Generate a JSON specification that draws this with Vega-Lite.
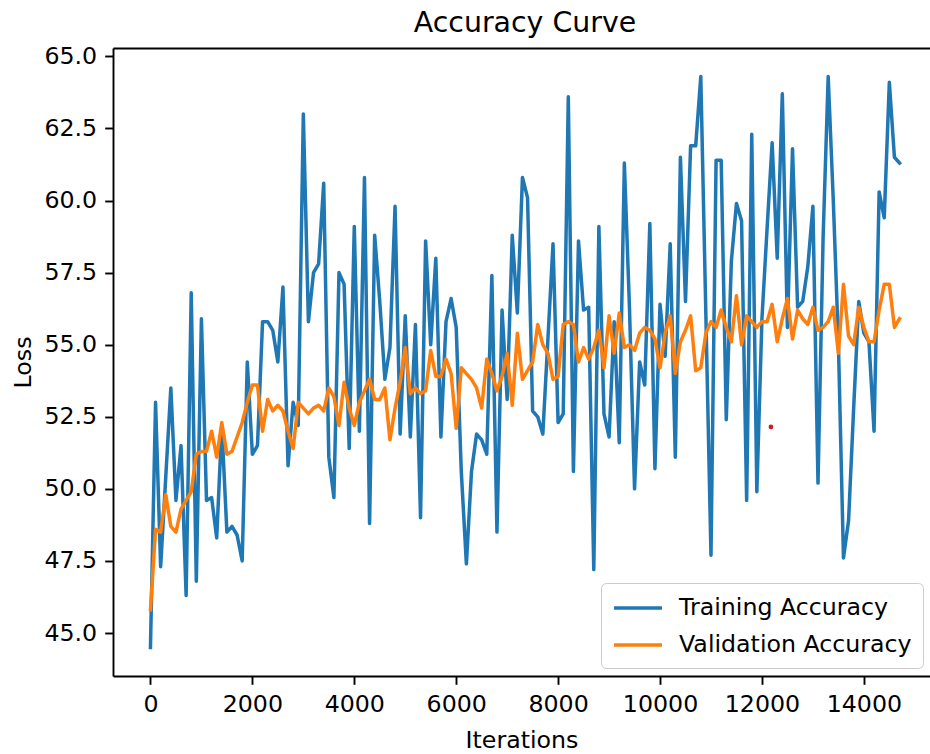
{
  "$schema": "https://vega.github.io/schema/vega-lite/v6.json",
  "width": 817,
  "height": 628,
  "autosize": {"type": "none"},
  "padding": {"left": 113, "top": 48, "right": 0, "bottom": 78},
  "background": "white",
  "title": {"text": "Accuracy Curve", "font": "DejaVu Sans", "fontSize": 28.4, "fontWeight": "normal", "color": "black", "frame": "group", "anchor": "middle", "baseline": "alphabetic", "offset": 14, "dx": 3.5, "dy": 30},
  "config": {
    "view": {"stroke": null},
    "axis": {"labelFont": "DejaVu Sans", "labelFontSize": 23.7, "labelColor": "black", "titleFont": "DejaVu Sans", "titleFontSize": 23.7, "titleFontWeight": "normal", "titleColor": "black", "tickColor": "black", "tickSize": 8.3, "tickWidth": 1.9, "domainColor": "black", "domainWidth": 1.9, "labelPadding": 8, "grid": false, "labelFlush": false, "labelOverlap": false}
  },
  "resolve": {"axis": {"x": "independent"}},
  "layer": [
    {
      "data": {"values": [
        {"it":0,"Training Accuracy":44.5,"Validation Accuracy":45.8},
        {"it":100,"Training Accuracy":53.0,"Validation Accuracy":48.6},
        {"it":200,"Training Accuracy":47.3,"Validation Accuracy":48.5},
        {"it":300,"Training Accuracy":50.4,"Validation Accuracy":49.8},
        {"it":400,"Training Accuracy":53.5,"Validation Accuracy":48.7},
        {"it":500,"Training Accuracy":49.6,"Validation Accuracy":48.5},
        {"it":600,"Training Accuracy":51.5,"Validation Accuracy":49.3},
        {"it":700,"Training Accuracy":46.3,"Validation Accuracy":49.6},
        {"it":800,"Training Accuracy":56.8,"Validation Accuracy":49.9},
        {"it":900,"Training Accuracy":46.8,"Validation Accuracy":51.2},
        {"it":1000,"Training Accuracy":55.9,"Validation Accuracy":51.3},
        {"it":1100,"Training Accuracy":49.6,"Validation Accuracy":51.3},
        {"it":1200,"Training Accuracy":49.7,"Validation Accuracy":52.0},
        {"it":1300,"Training Accuracy":48.3,"Validation Accuracy":51.1},
        {"it":1400,"Training Accuracy":52.2,"Validation Accuracy":52.3},
        {"it":1500,"Training Accuracy":48.5,"Validation Accuracy":51.2},
        {"it":1600,"Training Accuracy":48.7,"Validation Accuracy":51.3},
        {"it":1700,"Training Accuracy":48.4,"Validation Accuracy":51.8},
        {"it":1800,"Training Accuracy":47.5,"Validation Accuracy":52.3},
        {"it":1900,"Training Accuracy":54.4,"Validation Accuracy":53.0},
        {"it":2000,"Training Accuracy":51.2,"Validation Accuracy":53.6},
        {"it":2100,"Training Accuracy":51.5,"Validation Accuracy":53.6},
        {"it":2200,"Training Accuracy":55.8,"Validation Accuracy":52.0},
        {"it":2300,"Training Accuracy":55.8,"Validation Accuracy":53.1},
        {"it":2400,"Training Accuracy":55.5,"Validation Accuracy":52.7},
        {"it":2500,"Training Accuracy":54.4,"Validation Accuracy":52.9},
        {"it":2600,"Training Accuracy":57.0,"Validation Accuracy":52.7},
        {"it":2700,"Training Accuracy":50.8,"Validation Accuracy":52.0},
        {"it":2800,"Training Accuracy":53.0,"Validation Accuracy":51.4},
        {"it":2900,"Training Accuracy":52.2,"Validation Accuracy":53.0},
        {"it":3000,"Training Accuracy":63.0,"Validation Accuracy":52.8},
        {"it":3100,"Training Accuracy":55.8,"Validation Accuracy":52.6},
        {"it":3200,"Training Accuracy":57.5,"Validation Accuracy":52.8},
        {"it":3300,"Training Accuracy":57.8,"Validation Accuracy":52.9},
        {"it":3400,"Training Accuracy":60.6,"Validation Accuracy":52.7},
        {"it":3500,"Training Accuracy":51.1,"Validation Accuracy":53.5},
        {"it":3600,"Training Accuracy":49.7,"Validation Accuracy":53.2},
        {"it":3700,"Training Accuracy":57.5,"Validation Accuracy":52.2},
        {"it":3800,"Training Accuracy":57.1,"Validation Accuracy":53.7},
        {"it":3900,"Training Accuracy":51.4,"Validation Accuracy":52.8},
        {"it":4000,"Training Accuracy":59.1,"Validation Accuracy":52.2},
        {"it":4100,"Training Accuracy":52.0,"Validation Accuracy":53.0},
        {"it":4200,"Training Accuracy":60.8,"Validation Accuracy":53.4},
        {"it":4300,"Training Accuracy":48.8,"Validation Accuracy":53.8},
        {"it":4400,"Training Accuracy":58.8,"Validation Accuracy":53.1},
        {"it":4500,"Training Accuracy":56.5,"Validation Accuracy":53.1},
        {"it":4600,"Training Accuracy":53.8,"Validation Accuracy":53.5},
        {"it":4700,"Training Accuracy":54.9,"Validation Accuracy":51.7},
        {"it":4800,"Training Accuracy":59.8,"Validation Accuracy":52.8},
        {"it":4900,"Training Accuracy":51.9,"Validation Accuracy":53.7},
        {"it":5000,"Training Accuracy":56.0,"Validation Accuracy":54.9},
        {"it":5100,"Training Accuracy":51.8,"Validation Accuracy":53.3},
        {"it":5200,"Training Accuracy":55.7,"Validation Accuracy":53.5},
        {"it":5300,"Training Accuracy":49.0,"Validation Accuracy":53.3},
        {"it":5400,"Training Accuracy":58.6,"Validation Accuracy":53.4},
        {"it":5500,"Training Accuracy":55.0,"Validation Accuracy":54.8},
        {"it":5600,"Training Accuracy":58.0,"Validation Accuracy":53.9},
        {"it":5700,"Training Accuracy":51.8,"Validation Accuracy":53.9},
        {"it":5800,"Training Accuracy":55.8,"Validation Accuracy":54.5},
        {"it":5900,"Training Accuracy":56.6,"Validation Accuracy":54.0},
        {"it":6000,"Training Accuracy":55.6,"Validation Accuracy":52.1},
        {"it":6100,"Training Accuracy":50.6,"Validation Accuracy":54.2},
        {"it":6200,"Training Accuracy":47.4,"Validation Accuracy":54.0},
        {"it":6300,"Training Accuracy":50.6,"Validation Accuracy":53.8},
        {"it":6400,"Training Accuracy":51.9,"Validation Accuracy":53.5},
        {"it":6500,"Training Accuracy":51.7,"Validation Accuracy":52.8},
        {"it":6600,"Training Accuracy":51.2,"Validation Accuracy":54.5},
        {"it":6700,"Training Accuracy":57.4,"Validation Accuracy":54.0},
        {"it":6800,"Training Accuracy":48.5,"Validation Accuracy":53.4},
        {"it":6900,"Training Accuracy":56.2,"Validation Accuracy":53.9},
        {"it":7000,"Training Accuracy":53.1,"Validation Accuracy":54.7},
        {"it":7100,"Training Accuracy":58.8,"Validation Accuracy":52.9},
        {"it":7200,"Training Accuracy":56.1,"Validation Accuracy":55.4},
        {"it":7300,"Training Accuracy":60.8,"Validation Accuracy":53.8},
        {"it":7400,"Training Accuracy":60.1,"Validation Accuracy":54.1},
        {"it":7500,"Training Accuracy":52.7,"Validation Accuracy":54.4},
        {"it":7600,"Training Accuracy":52.5,"Validation Accuracy":55.7},
        {"it":7700,"Training Accuracy":51.9,"Validation Accuracy":55.0},
        {"it":7800,"Training Accuracy":55.2,"Validation Accuracy":54.7},
        {"it":7900,"Training Accuracy":58.5,"Validation Accuracy":53.8},
        {"it":8000,"Training Accuracy":52.3,"Validation Accuracy":53.9},
        {"it":8100,"Training Accuracy":52.6,"Validation Accuracy":55.7},
        {"it":8200,"Training Accuracy":63.6,"Validation Accuracy":55.8},
        {"it":8300,"Training Accuracy":50.6,"Validation Accuracy":55.7},
        {"it":8400,"Training Accuracy":58.6,"Validation Accuracy":54.4},
        {"it":8500,"Training Accuracy":56.2,"Validation Accuracy":54.9},
        {"it":8600,"Training Accuracy":56.3,"Validation Accuracy":54.5},
        {"it":8700,"Training Accuracy":47.2,"Validation Accuracy":54.9},
        {"it":8800,"Training Accuracy":59.1,"Validation Accuracy":55.5},
        {"it":8900,"Training Accuracy":52.6,"Validation Accuracy":54.2},
        {"it":9000,"Training Accuracy":51.8,"Validation Accuracy":56.0},
        {"it":9100,"Training Accuracy":55.8,"Validation Accuracy":54.7},
        {"it":9200,"Training Accuracy":51.6,"Validation Accuracy":56.1},
        {"it":9300,"Training Accuracy":61.3,"Validation Accuracy":54.9},
        {"it":9400,"Training Accuracy":56.3,"Validation Accuracy":55.0},
        {"it":9500,"Training Accuracy":50.0,"Validation Accuracy":54.8},
        {"it":9600,"Training Accuracy":54.4,"Validation Accuracy":55.4},
        {"it":9700,"Training Accuracy":53.6,"Validation Accuracy":55.6},
        {"it":9800,"Training Accuracy":59.2,"Validation Accuracy":55.5},
        {"it":9900,"Training Accuracy":50.7,"Validation Accuracy":55.2},
        {"it":10000,"Training Accuracy":56.4,"Validation Accuracy":54.2},
        {"it":10100,"Training Accuracy":54.6,"Validation Accuracy":55.4},
        {"it":10200,"Training Accuracy":58.5,"Validation Accuracy":56.0},
        {"it":10300,"Training Accuracy":51.1,"Validation Accuracy":54.0},
        {"it":10400,"Training Accuracy":61.5,"Validation Accuracy":55.1},
        {"it":10500,"Training Accuracy":56.5,"Validation Accuracy":55.5},
        {"it":10600,"Training Accuracy":61.9,"Validation Accuracy":56.0},
        {"it":10700,"Training Accuracy":61.9,"Validation Accuracy":54.1},
        {"it":10800,"Training Accuracy":64.3,"Validation Accuracy":54.2},
        {"it":10900,"Training Accuracy":56.0,"Validation Accuracy":55.4},
        {"it":11000,"Training Accuracy":47.7,"Validation Accuracy":55.8},
        {"it":11100,"Training Accuracy":61.4,"Validation Accuracy":55.6},
        {"it":11200,"Training Accuracy":61.4,"Validation Accuracy":56.2},
        {"it":11300,"Training Accuracy":52.4,"Validation Accuracy":55.6},
        {"it":11400,"Training Accuracy":57.9,"Validation Accuracy":55.1},
        {"it":11500,"Training Accuracy":59.9,"Validation Accuracy":56.7},
        {"it":11600,"Training Accuracy":59.3,"Validation Accuracy":55.0},
        {"it":11700,"Training Accuracy":49.6,"Validation Accuracy":56.0},
        {"it":11800,"Training Accuracy":62.3,"Validation Accuracy":55.8},
        {"it":11900,"Training Accuracy":49.9,"Validation Accuracy":55.6},
        {"it":12000,"Training Accuracy":55.9,"Validation Accuracy":55.8},
        {"it":12100,"Training Accuracy":59.0,"Validation Accuracy":55.8},
        {"it":12200,"Training Accuracy":62.0,"Validation Accuracy":56.4},
        {"it":12300,"Training Accuracy":58.0,"Validation Accuracy":55.1},
        {"it":12400,"Training Accuracy":63.7,"Validation Accuracy":55.9},
        {"it":12500,"Training Accuracy":55.6,"Validation Accuracy":56.6},
        {"it":12600,"Training Accuracy":61.8,"Validation Accuracy":55.2},
        {"it":12700,"Training Accuracy":56.3,"Validation Accuracy":56.2},
        {"it":12800,"Training Accuracy":56.5,"Validation Accuracy":55.9},
        {"it":12900,"Training Accuracy":57.7,"Validation Accuracy":55.7},
        {"it":13000,"Training Accuracy":59.8,"Validation Accuracy":56.3},
        {"it":13100,"Training Accuracy":50.2,"Validation Accuracy":55.5},
        {"it":13200,"Training Accuracy":58.7,"Validation Accuracy":55.6},
        {"it":13300,"Training Accuracy":64.3,"Validation Accuracy":55.8},
        {"it":13400,"Training Accuracy":60.0,"Validation Accuracy":56.3},
        {"it":13500,"Training Accuracy":55.1,"Validation Accuracy":54.7},
        {"it":13600,"Training Accuracy":47.6,"Validation Accuracy":57.1},
        {"it":13700,"Training Accuracy":48.9,"Validation Accuracy":55.3},
        {"it":13800,"Training Accuracy":52.8,"Validation Accuracy":55.0},
        {"it":13900,"Training Accuracy":56.5,"Validation Accuracy":56.3},
        {"it":14000,"Training Accuracy":55.4,"Validation Accuracy":55.6},
        {"it":14100,"Training Accuracy":55.1,"Validation Accuracy":55.1},
        {"it":14200,"Training Accuracy":52.0,"Validation Accuracy":55.1},
        {"it":14300,"Training Accuracy":60.3,"Validation Accuracy":56.2},
        {"it":14400,"Training Accuracy":59.4,"Validation Accuracy":57.1},
        {"it":14500,"Training Accuracy":64.1,"Validation Accuracy":57.1},
        {"it":14600,"Training Accuracy":61.5,"Validation Accuracy":55.6},
        {"it":14700,"Training Accuracy":61.3,"Validation Accuracy":55.9}
      ]},
      "transform": [{"fold": ["Training Accuracy", "Validation Accuracy"], "as": ["series", "acc"]}],
      "mark": {"type": "line", "strokeWidth": 3.5, "strokeJoin": "round", "strokeCap": "square"},
      "encoding": {
        "x": {"field": "it", "type": "quantitative", "scale": {"domain": [-735, 15298], "nice": false, "zero": false},
              "axis": {"title": "Iterations", "values": [0, 2000, 4000, 6000, 8000, 10000, 12000, 14000], "format": "d", "titlePadding": 12}},
        "y": {"field": "acc", "type": "quantitative", "scale": {"domain": [43.51, 65.29], "nice": false, "zero": false},
              "axis": {"title": "Loss", "values": [45, 47.5, 50, 52.5, 55, 57.5, 60, 62.5, 65], "format": ".1f", "titlePadding": 8}},
        "color": {"field": "series", "type": "nominal",
                  "scale": {"domain": ["Training Accuracy", "Validation Accuracy"], "range": ["#1f77b4", "#ff7f0e"]},
                  "legend": {"title": null, "orient": "none", "legendX": 488, "legendY": 535, "labelFont": "DejaVu Sans", "labelFontSize": 23.7, "labelColor": "black", "labelLimit": 400, "symbolType": "M-1,0H3", "symbolSize": 576, "symbolStrokeWidth": 3.5, "labelOffset": 39, "rowPadding": 11, "padding": 11, "fillColor": "rgba(255,255,255,0.8)", "strokeColor": "#cccccc", "cornerRadius": 5}}
      }
    },
    {
      "data": {"values": [{"it": 12176, "acc": 52.15}]},
      "mark": {"type": "point", "filled": true, "color": "#e3121c", "size": 22, "opacity": 1},
      "encoding": {
        "x": {"field": "it", "type": "quantitative", "scale": {"domain": [-735, 15298], "nice": false, "zero": false},
              "axis": {"orient": "top", "labels": false, "ticks": false, "title": null, "domain": true, "minExtent": 0, "maxExtent": 0, "offset": 0}},
        "y": {"field": "acc", "type": "quantitative"}
      }
    }
  ]
}
